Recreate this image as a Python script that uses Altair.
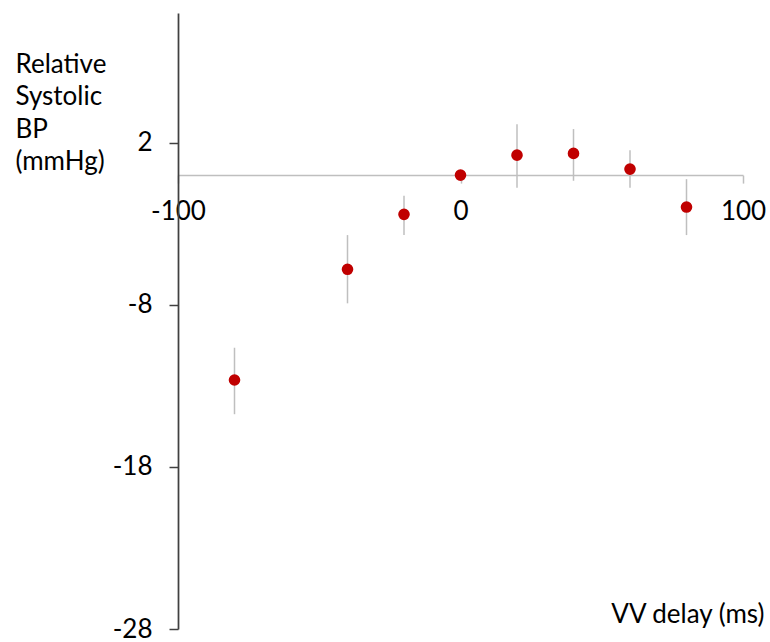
import altair as alt
import pandas as pd

delay = [-80, -40, -20, 0, 20, 40, 60, 80]
bp = [-12.64, -5.81, -2.42, 0.0, 1.23, 1.34, 0.37, -1.97]
err_hi = [-10.65, -3.70, -1.28, 0.3, 3.13, 2.84, 1.54, -0.25]
err_lo = [-14.75, -7.91, -3.70, -0.3, -0.78, -0.35, -0.78, -3.70]
x_ticks = [-100, 0, 100]
y_ticks = [-28, -18, -8, 2]

df = pd.DataFrame({"delay": delay, "bp": bp, "hi": err_hi, "lo": err_lo})

FONT = "Lato"
FS = 26
W, H = 565, 616
TOP = 13
Y_MIN, Y_MAX = -28, 10
y0_px = H * (Y_MAX - 0) / (Y_MAX - Y_MIN)
x_offset = -(H - y0_px)
LABEL_EXPR = "datum.value < 0 ? '-' + abs(datum.value) : '' + datum.value"

x_enc = alt.X(
    "delay:Q",
    scale=alt.Scale(domain=[-100, 100], nice=False, zero=False),
    axis=alt.Axis(
        values=x_ticks,
        labelExpr=LABEL_EXPR,
        labelFlush=False,
        offset=x_offset,
        domainColor="#bfbfbf",
        domainWidth=1.5,
        tickColor="#bfbfbf",
        tickWidth=1.5,
        tickSize=8,
        labelPadding=15,
        labelFont=FONT,
        labelFontSize=FS,
        labelColor="#000000",
        grid=False,
        title="VV delay (ms)",
        titleFont=FONT,
        titleFontSize=FS,
        titleFontWeight="normal",
        titleColor="#000000",
        titleAlign="right",
        titleBaseline="alphabetic",
        titleX=586,
        titleY=447,
    ),
)

y_enc = alt.Y(
    "bp:Q",
    scale=alt.Scale(domain=[Y_MIN, Y_MAX], nice=False, zero=False),
    axis=alt.Axis(
        values=y_ticks,
        labelExpr=LABEL_EXPR,
        labelFlush=False,
        domainColor="#404040",
        domainWidth=1.75,
        tickColor="#404040",
        tickWidth=1.5,
        tickSize=9,
        labelPadding=17,
        labelFont=FONT,
        labelFontSize=FS,
        labelColor="#000000",
        grid=False,
        title=["Relative", "Systolic", "BP", "(mmHg)"],
        titleFont=FONT,
        titleFontSize=FS,
        titleFontWeight="normal",
        titleColor="#000000",
        titleAngle=0,
        titleAlign="left",
        titleBaseline="alphabetic",
        titleLineHeight=32.5,
        titleX=-163,
        titleY=59,
    ),
)

bars = alt.Chart(df).mark_rule(color="#bfbfbf", strokeWidth=1.5).encode(
    x=alt.X("delay:Q", scale=alt.Scale(domain=[-100, 100], nice=False, zero=False)),
    y=alt.Y("lo:Q", scale=alt.Scale(domain=[Y_MIN, Y_MAX], nice=False, zero=False)),
    y2="hi:Q",
)

points = alt.Chart(df).mark_point(
    filled=True, shape="circle", size=135, color="#c00000", opacity=1
).encode(x=x_enc, y=y_enc)

chart = (
    alt.layer(bars, points)
    .properties(
        width=W,
        height=H,
        autosize=alt.AutoSizeParams(type="none"),
        padding={"left": 178, "top": TOP, "right": 27, "bottom": 13},
        background="white",
    )
    .configure_view(stroke=None)
)

chart.save("out.html", embed_options={"renderer": "svg", "actions": False})
